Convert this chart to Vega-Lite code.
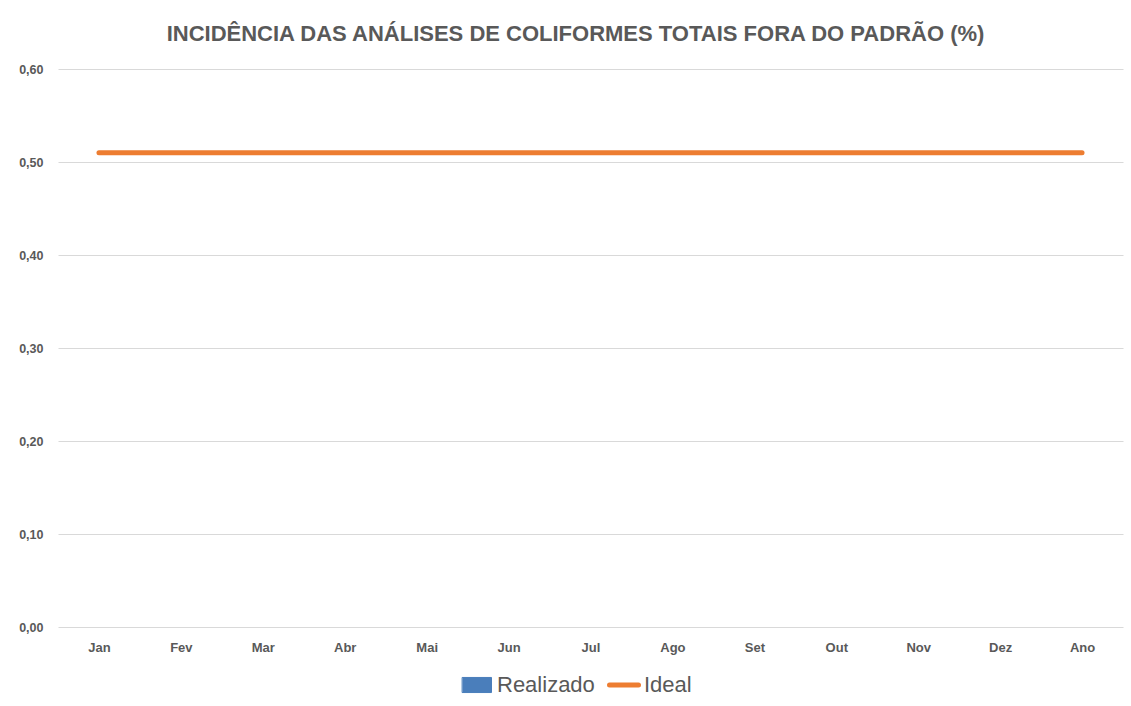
{
  "$schema": "https://vega.github.io/schema/vega-lite/v6.json",
  "width": 1065,
  "height": 558,
  "autosize": {"type": "none"},
  "padding": {"left": 58, "top": 69, "right": 8, "bottom": 79},
  "background": "white",
  "config": {
    "view": {"stroke": null},
    "locale": {"number": {"decimal": ",", "thousands": ".", "grouping": [3], "currency": ["R$", ""]}},
    "font": "Liberation Sans"
  },
  "title": {
    "text": "INCIDÊNCIA DAS ANÁLISES DE COLIFORMES TOTAIS FORA DO PADRÃO (%)",
    "font": "Liberation Sans",
    "fontSize": 22,
    "fontWeight": "bold",
    "color": "#595959",
    "anchor": "middle",
    "dx": -15,
    "offset": 17
  },
  "data": {
    "values": [
      {"mes": "Jan", "serie": "Ideal", "valor": 0.51},
      {"mes": "Fev", "serie": "Ideal", "valor": 0.51},
      {"mes": "Mar", "serie": "Ideal", "valor": 0.51},
      {"mes": "Abr", "serie": "Ideal", "valor": 0.51},
      {"mes": "Mai", "serie": "Ideal", "valor": 0.51},
      {"mes": "Jun", "serie": "Ideal", "valor": 0.51},
      {"mes": "Jul", "serie": "Ideal", "valor": 0.51},
      {"mes": "Ago", "serie": "Ideal", "valor": 0.51},
      {"mes": "Set", "serie": "Ideal", "valor": 0.51},
      {"mes": "Out", "serie": "Ideal", "valor": 0.51},
      {"mes": "Nov", "serie": "Ideal", "valor": 0.51},
      {"mes": "Dez", "serie": "Ideal", "valor": 0.51},
      {"mes": "Ano", "serie": "Ideal", "valor": 0.51},
      {"mes": "Jan", "serie": "Realizado", "valor": null},
      {"mes": "Fev", "serie": "Realizado", "valor": null},
      {"mes": "Mar", "serie": "Realizado", "valor": null},
      {"mes": "Abr", "serie": "Realizado", "valor": null},
      {"mes": "Mai", "serie": "Realizado", "valor": null},
      {"mes": "Jun", "serie": "Realizado", "valor": null},
      {"mes": "Jul", "serie": "Realizado", "valor": null},
      {"mes": "Ago", "serie": "Realizado", "valor": null},
      {"mes": "Set", "serie": "Realizado", "valor": null},
      {"mes": "Out", "serie": "Realizado", "valor": null},
      {"mes": "Nov", "serie": "Realizado", "valor": null},
      {"mes": "Dez", "serie": "Realizado", "valor": null},
      {"mes": "Ano", "serie": "Realizado", "valor": null}
    ]
  },
  "encoding": {
    "x": {
      "field": "mes",
      "type": "nominal",
      "sort": ["Jan", "Fev", "Mar", "Abr", "Mai", "Jun", "Jul", "Ago", "Set", "Out", "Nov", "Dez", "Ano"],
      "scale": {"type": "point", "padding": 0.5},
      "axis": {
        "title": null,
        "labelAngle": 0,
        "labelFont": "Liberation Sans",
        "labelFontSize": 13,
        "labelFontWeight": "bold",
        "labelColor": "#595959",
        "labelPadding": 14,
        "domain": false,
        "ticks": false,
        "grid": false
      }
    },
    "y": {
      "field": "valor",
      "type": "quantitative",
      "scale": {"domain": [0, 0.6], "nice": false},
      "axis": {
        "title": null,
        "format": ".2f",
        "values": [0, 0.1, 0.2, 0.3, 0.4, 0.5, 0.6],
        "labelOverlap": false,
        "labelFont": "Liberation Sans",
        "labelFontSize": 12.5,
        "labelFontWeight": "bold",
        "labelColor": "#595959",
        "labelPadding": 15,
        "domain": false,
        "ticks": false,
        "gridColor": "#D9D9D9",
        "gridWidth": 1
      }
    },
    "color": {
      "field": "serie",
      "type": "nominal",
      "scale": {"domain": ["Realizado", "Ideal"], "range": ["#4A7EBB", "#ED7D31"]},
      "legend": {
        "title": null,
        "orient": "none",
        "legendX": 408,
        "legendY": 605,
        "direction": "horizontal",
        "labelFont": "Liberation Sans",
        "labelFontSize": 22,
        "labelColor": "#595959",
        "symbolSize": 841,
        "symbolOffset": 0,
        "labelOffset": 9,
        "columnPadding": 4,
        "symbolStrokeWidth": 0,
        "encode": {
          "symbols": {
            "update": {
              "shape": {"signal": "datum.value === 'Ideal' ? 'M-1,0H1' : 'M-1,-0.52H1V0.52H-1Z'"},
              "stroke": {"signal": "datum.value === 'Ideal' ? '#ED7D31' : '#385D8A'"},
              "strokeWidth": {"signal": "datum.value === 'Ideal' ? 5 : 1"},
              "strokeCap": {"value": "round"},
              "fill": {"signal": "datum.value === 'Ideal' ? 'transparent' : '#4A7EBB'"}
            }
          }
        }
      }
    }
  },
  "layer": [
    {
      "transform": [{"filter": "datum.serie === 'Realizado'"}],
      "mark": {"type": "bar"}
    },
    {
      "transform": [{"filter": "datum.serie === 'Ideal'"}],
      "mark": {"type": "line", "strokeWidth": 5, "strokeCap": "round"}
    }
  ]
}
